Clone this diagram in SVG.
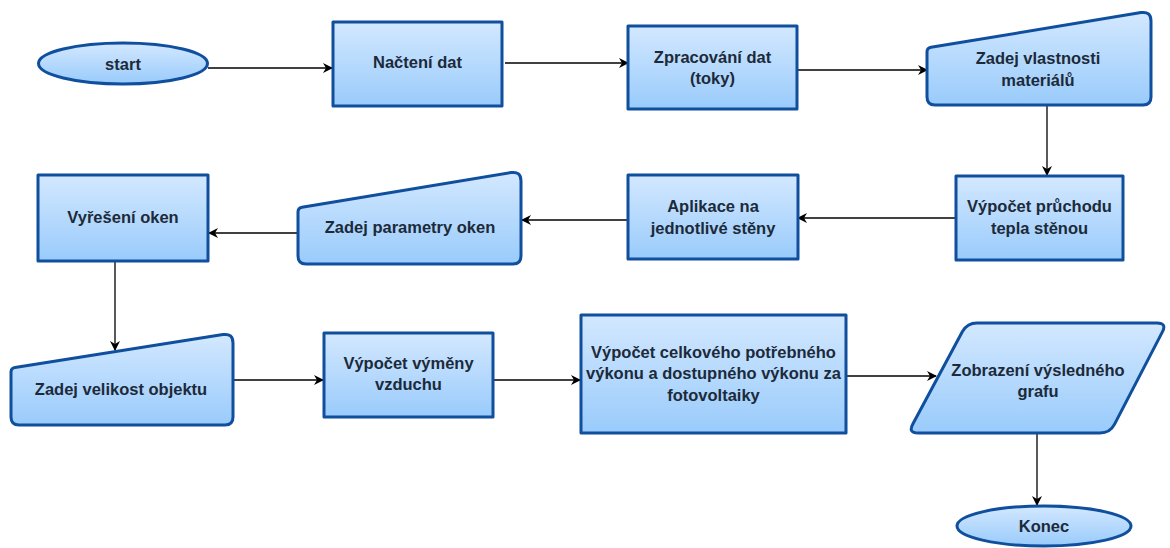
<svg xmlns="http://www.w3.org/2000/svg" width="1170" height="548" viewBox="0 0 1170 548">
<defs>
<linearGradient id="g" x1="0" y1="0" x2="0" y2="1">
<stop offset="0" stop-color="#d3e8ff"/>
<stop offset="1" stop-color="#99cbfb"/>
</linearGradient>
<marker id="a" viewBox="0 0 10 10" refX="9" refY="5" markerWidth="10" markerHeight="10" markerUnits="userSpaceOnUse" orient="auto">
<path d="M0,0 L10,5 L0,10 L3,5 Z" fill="#000"/>
</marker>
<style>
.s{fill:url(#g);stroke:#0f4f9d;stroke-width:3;stroke-linejoin:round}
.t{font-family:"Liberation Sans",Arial,Helvetica,sans-serif;font-weight:bold;font-size:16.5px;fill:#1c2a3a;text-anchor:middle}
.c{fill:none;stroke:#000;stroke-width:1.3;marker-end:url(#a)}
</style>
</defs>
<rect width="1170" height="548" fill="#fff"/>
<g id="connectors">
<path class="c" d="M208,68 L332,68"/>
<path class="c" d="M505,63 L628,63"/>
<path class="c" d="M797,70 L927,70"/>
<path class="c" d="M1047,105 L1047,175"/>
<path class="c" d="M956,218 L798,218"/>
<path class="c" d="M628,220 L522,220"/>
<path class="c" d="M298,233 L209,233"/>
<path class="c" d="M115,261 L115,350"/>
<path class="c" d="M233,380 L323,380"/>
<path class="c" d="M493,380 L580,380"/>
<path class="c" d="M846,376 L936,376"/>
<path class="c" d="M1037,433 L1037,505"/>
</g>
<g id="start">
<ellipse class="s" cx="123" cy="63.5" rx="84.5" ry="20.5"/>
<text class="t" x="123" y="69.5">start</text>
</g>
<g id="nacteni">
<rect class="s" x="333" y="22" width="169" height="84"/>
<text class="t" x="417.5" y="68">Načtení dat</text>
</g>
<g id="zpracovani">
<rect class="s" x="628" y="26" width="169" height="83"/>
<text class="t" x="712.5" y="63">Zpracování dat</text>
<text class="t" x="712.5" y="84">(toky)</text>
</g>
<g id="vlastnosti">
<path class="s" d="M927,52 Q927,48 931,47.3 L1141,12.6 Q1151,11 1151,21 L1151,97 Q1151,105 1143,105 L935,105 Q927,105 927,97 Z"/>
<text class="t" x="1038" y="64">Zadej vlastnosti</text>
<text class="t" x="1038" y="86">materiálů</text>
</g>
<g id="pruchod">
<rect class="s" x="956" y="176" width="167" height="84"/>
<text class="t" x="1039.5" y="212">Výpočet průchodu</text>
<text class="t" x="1039.5" y="234">tepla stěnou</text>
</g>
<g id="aplikace">
<rect class="s" x="628" y="175" width="170" height="84"/>
<text class="t" x="713" y="212">Aplikace na</text>
<text class="t" x="713" y="234">jednotlivé stěny</text>
</g>
<g id="parametry">
<path class="s" d="M298,212 Q298,208 302,207.3 L511,172.6 Q521,171 521,181 L521,256 Q521,264 513,264 L306,264 Q298,264 298,256 Z"/>
<text class="t" x="410" y="233">Zadej parametry oken</text>
</g>
<g id="okna">
<rect class="s" x="38" y="175" width="170" height="86"/>
<text class="t" x="123" y="223">Vyřešení oken</text>
</g>
<g id="velikost">
<path class="s" d="M11,372 Q11,368 15,367.4 L223,334.6 Q233,333 233,343 L233,417 Q233,425 225,425 L19,425 Q11,425 11,417 Z"/>
<text class="t" x="121" y="395">Zadej velikost objektu</text>
</g>
<g id="vymena">
<rect class="s" x="324" y="333" width="169" height="84"/>
<text class="t" x="408.5" y="369">Výpočet výměny</text>
<text class="t" x="408.5" y="390">vzduchu</text>
</g>
<g id="celkovy">
<rect class="s" x="581" y="315" width="265" height="118"/>
<text class="t" x="713.5" y="358">Výpočet celkového potřebného</text>
<text class="t" x="713.5" y="379">výkonu a dostupného výkonu za</text>
<text class="t" x="713.5" y="401">fotovoltaiky</text>
</g>
<g id="graf">
<path class="s" d="M977,323 L1157,323 Q1167,323 1162.4,331.9 L1114.6,424.1 Q1110,433 1100,433 L918,433 Q908,433 912.7,424.2 L962.3,331.8 Q967,323 977,323 Z"/>
<text class="t" x="1038" y="376">Zobrazení výsledného</text>
<text class="t" x="1038" y="397">grafu</text>
</g>
<g id="konec">
<ellipse class="s" cx="1044" cy="526" rx="87" ry="20"/>
<text class="t" x="1044" y="532">Konec</text>
</g>
</svg>
